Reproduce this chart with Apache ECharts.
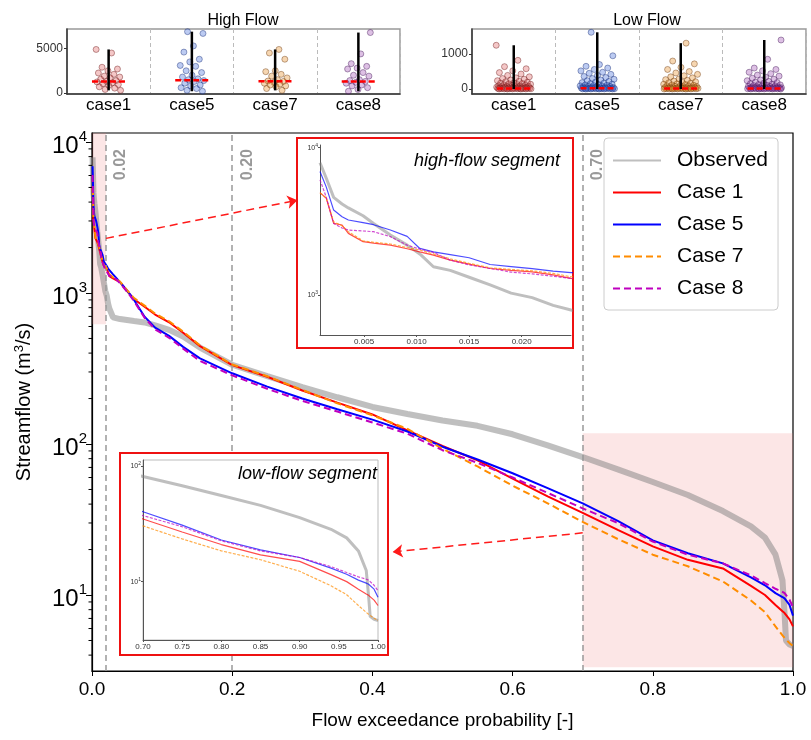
<!DOCTYPE html>
<html>
<head>
<meta charset="utf-8">
<script src="https://cdn.jsdelivr.net/npm/echarts@6.0.0/dist/echarts.min.js"></script>
<style>
  html, body { margin: 0; padding: 0; background: #fff; }
  #chart { width: 811px; height: 740px; }
</style>
</head>
<body>
<div id="chart"></div>
<script>
// exceedance probabilities shared by all flow duration curves
const prob = [0.0008, 0.0014, 0.0021, 0.0029, 0.0035, 0.0049, 0.0059, 0.0075, 0.0091, 0.0103,
  0.0116, 0.0132, 0.0150, 0.0170, 0.0190, 0.0210, 0.0230, 0.0247, 0.03, 0.04,
  0.05, 0.06, 0.075, 0.09, 0.11, 0.13, 0.154, 0.20, 0.25, 0.30,
  0.35, 0.40, 0.45, 0.50, 0.55, 0.60, 0.65, 0.70, 0.75, 0.80,
  0.85, 0.90, 0.94, 0.96, 0.975, 0.985, 0.988, 0.990, 0.995, 1.0];

const observed = [7900, 6200, 4600, 4150, 3900, 3450, 3060, 2550, 2180, 1900,
  1555, 1470, 1320, 1170, 1030, 960, 850, 790, 690, 672,
  662, 652, 638, 610, 570, 515, 435, 335, 282, 238,
  204, 176, 158, 143, 132, 116, 98, 82, 68, 56,
  46, 36, 28.5, 24, 18.5, 12.5, 7.5, 5.0, 4.7, 4.6];

const case1 = [4950, 4530, 3060, 2985, 2620, 2300, 2250, 2180, 2060, 1960,
  1865, 1725, 1620, 1513, 1470, 1436, 1370, 1295, 1250, 1180,
  1030, 910, 811, 720, 640, 545, 445, 333, 279, 226,
  188, 157, 123, 97, 78, 59, 45, 35, 27, 21,
  17.1, 15, 11.5, 10, 8.6, 7.8, 7.6, 7.4, 6.9, 6.2];

const case5 = [6900, 5400, 3770, 3400, 3230, 3100, 3000, 2760, 2500, 2070,
  1960, 1880, 1790, 1611, 1560, 1510, 1450, 1420, 1330, 1180,
  1040, 900, 697, 590, 520, 440, 369, 294, 240, 200,
  170, 145, 121, 96, 79, 64, 51, 40.5, 31, 23,
  18.9, 16.2, 13.1, 11.6, 10.3, 9.7, 9.5, 9.3, 8.6, 7.3];

const case7 = [4950, 4550, 3140, 2950, 2690, 2330, 2280, 2220, 2100, 2020,
  1900, 1760, 1640, 1530, 1490, 1460, 1400, 1330, 1270, 1190,
  1045, 925, 825, 730, 650, 555, 450, 336, 281, 228,
  186, 155, 126, 93, 71, 53, 40.5, 30.5, 23.5, 18.5,
  15.5, 12.3, 9.2, 7.7, 6.2, 5.4, 5.2, 5.1, 4.8, 4.6];

const case8 = [6050, 4600, 3060, 2850, 2760, 2720, 2690, 2490, 2180, 2050,
  1945, 1725, 1600, 1513, 1430, 1390, 1340, 1295, 1290, 1160,
  1020, 885, 685, 575, 505, 428, 355, 285, 232, 193,
  164, 139, 117, 91, 75, 60, 47.5, 37.5, 30, 22.6,
  18.5, 16.2, 13.5, 12, 11, 10.5, 10.3, 10.2, 9.3, 8.3];

const yTicksMain = [10, 100, 1000, 10000];
const minorTicksMain = [4, 5, 6, 7, 8, 9, 20, 30, 40, 50, 60, 70, 80, 90,
  200, 300, 400, 500, 600, 700, 800, 900, 2000, 3000, 4000, 5000, 6000, 7000, 8000, 9000];
const thresholds = [0.02, 0.20, 0.70];
const highInsetTicks = [0.005, 0.010, 0.015, 0.020];

// strip plots (top panels)
const cases = ['case1', 'case5', 'case7', 'case8'];
const highFlow = [
  [4900, 4500, 2900, 2700, 2500, 2250, 2100, 1900, 1800, 1700, 1550, 1400, 1300, 1250, 1150, 1050, 950, 850, 700, 550, 400, 300],
  [6900, 6700, 5300, 4600, 3800, 3500, 3100, 3000, 2500, 2300, 2000, 1800, 1600, 1500, 1400, 1300, 1100, 900, 800, 600, 500, 300, 200],
  [4900, 4500, 3800, 2500, 2400, 2100, 1900, 1700, 1500, 1350, 1300, 1200, 1100, 1000, 900, 800, 700, 500, 300],
  [6800, 4400, 3300, 3000, 2800, 2700, 2300, 2000, 1900, 1500, 1400, 1300, 1200, 1100, 900, 800, 600, 400, 200]
];
const highMedian = [1300, 1450, 1330, 1300];
const lowFlow = [
  [1250, 820, 640, 580, 520, 470, 430, 390, 350, 320, 300, 280, 260, 240, 225, 210, 195, 180, 170, 160, 150, 140, 130, 120, 110, 100, 95, 90, 85, 80, 75, 70, 65, 60, 56, 52, 48, 45, 42, 39, 36, 33, 30, 28, 26, 24, 22, 20, 18, 16, 15, 14, 12, 11, 10, 9, 8, 7, 6, 5, 4, 3, 2],
  [1620, 950, 700, 650, 600, 560, 520, 480, 450, 420, 390, 360, 330, 300, 280, 260, 240, 220, 200, 185, 170, 155, 140, 130, 120, 110, 100, 92, 85, 78, 72, 66, 60, 55, 50, 46, 42, 38, 35, 32, 29, 26, 24, 22, 20, 18, 16, 14, 12, 11, 10, 9, 8, 7, 6, 5, 4, 3, 2],
  [1310, 800, 720, 620, 560, 500, 460, 420, 380, 350, 320, 290, 270, 250, 230, 210, 195, 180, 165, 150, 140, 130, 120, 110, 100, 92, 85, 78, 72, 66, 60, 55, 50, 46, 42, 38, 35, 32, 29, 26, 24, 22, 20, 18, 16, 14, 12, 11, 10, 9, 8, 7, 6, 5, 4, 3, 2],
  [1400, 850, 600, 560, 520, 480, 440, 400, 370, 340, 310, 280, 260, 240, 220, 200, 185, 170, 155, 140, 130, 120, 110, 100, 92, 85, 78, 72, 66, 60, 55, 50, 46, 42, 38, 35, 32, 29, 26, 24, 22, 20, 18, 16, 14, 12, 11, 10, 9, 8, 7, 6, 5, 4, 3, 2]
];
const lowMedian = [20, 22, 20, 20];

const FONT = '"Liberation Sans", Arial, sans-serif';
const curveNames = ['Observed', 'Case 1', 'Case 5', 'Case 7', 'Case 8'];
const curveData = [observed, case1, case5, case7, case8];
const curveColors = ['rgba(128,128,128,0.5)', '#ff0000', '#0000ff', '#ff8c00', '#bf00bf'];
const curveDashed = [false, false, false, true, true];
const stripFill = ['rgba(220,80,80,0.4)', 'rgba(70,110,220,0.45)', 'rgba(230,140,40,0.45)', 'rgba(150,60,170,0.4)'];
const stripEdge = ['rgba(110,30,30,0.7)', 'rgba(30,50,120,0.7)', 'rgba(110,60,20,0.7)', 'rgba(70,30,90,0.7)'];

const pairs = (ys) => prob.map((p, i) => [p, ys[i]]);
const jitter = (k, w) => (((k * 0.618034) % 1) - 0.5) * w;
const pow10Label = (v) => '{b|10}{s|' + Math.round(Math.log10(v)) + '}';

const chart = echarts.init(document.getElementById('chart'));

const series = [];

// main flow duration curves
curveNames.forEach((name, i) => {
  const s = {
    name: name,
    type: 'line',
    xAxisIndex: 0,
    yAxisIndex: 0,
    data: pairs(curveData[i]),
    showSymbol: false,
    symbol: 'none',
    z: 2 + i,
    lineStyle: { color: curveColors[i], width: i === 0 ? 6 : 2, type: curveDashed[i] ? [7, 4] : 'solid' },
    itemStyle: { color: curveColors[i] },
    emphasis: { disabled: true }
  };
  if (i === 0) {
    s.markArea = {
      silent: true,
      itemStyle: { color: 'rgba(240,128,128,0.2)' },
      data: [
        [{ xAxis: 0, yAxis: 620 }, { xAxis: 0.02, yAxis: 11470 }],
        [{ xAxis: 0.70, yAxis: 3.33 }, { xAxis: 1.0, yAxis: 118 }]
      ]
    };
    s.markLine = {
      silent: true,
      symbol: 'none',
      lineStyle: { color: '#999', type: [6, 4], width: 1.5 },
      label: {
        show: true,
        position: 'insideEndBottom',
        color: '#999',
        fontWeight: 'bold',
        fontSize: 16,
        fontFamily: FONT,
        distance: [16, 7],
        formatter: (p) => p.value.toFixed(2)
      },
      data: thresholds.map((t) => ({ xAxis: t }))
    };
  }
  if (i === 1) {
    s.markLine = {
      silent: true,
      symbolSize: 10,
      lineStyle: { color: '#ff1a1a', type: [8, 5], width: 1.5 },
      label: { show: false },
      data: [
        [{ coord: [0.02, 2300], symbol: 'none' }, { coord: [0.293, 4120], symbol: 'arrow' }],
        [{ coord: [0.70, 25.8], symbol: 'none' }, { coord: [0.429, 19.3], symbol: 'arrow' }]
      ]
    };
  }
  series.push(s);
});

// minor ticks of the main log axis
series.push({
  type: 'custom',
  xAxisIndex: 0,
  yAxisIndex: 0,
  silent: true,
  data: minorTicksMain.map((v) => [0, v]),
  renderItem: (params, api) => {
    const pt = api.coord([0, api.value(1)]);
    return {
      type: 'line',
      shape: { x1: pt[0] - 3.5, y1: pt[1], x2: pt[0], y2: pt[1] },
      style: { stroke: '#000', lineWidth: 1 }
    };
  },
  z: 3
});

// inset curves
[1, 2].forEach((ax) => {
  curveNames.forEach((name, i) => {
    const s = {
      type: 'line',
      xAxisIndex: ax,
      yAxisIndex: ax,
      data: pairs(curveData[i]),
      showSymbol: false,
      symbol: 'none',
      silent: true,
      z: 30 + i,
      lineStyle: {
        color: curveColors[i],
        opacity: i === 0 ? 1 : 0.7,
        width: i === 0 ? 3 : 1.2,
        type: curveDashed[i] ? [3, 1.5] : 'solid'
      }
    };
    if (i === 0) {
      s.markLine = {
        silent: true,
        symbol: 'none',
        lineStyle: { color: '#bbb', type: [2, 2], width: 1 },
        label: { show: false },
        data: [{ xAxis: ax === 1 ? 0.020 : 0.70 }]
      };
    }
    series.push(s);
  });
});

// strip plots: jittered points, min-max whisker, median dash
const addStrip = (values, medians, xIdx, yIdx, spread) => {
  values.forEach((vals, c) => {
    series.push({
      type: 'scatter',
      xAxisIndex: xIdx,
      yAxisIndex: yIdx,
      symbolSize: 6,
      silent: true,
      data: vals.map((v, k) => [c + jitter(k + c * 7, spread), v]),
      itemStyle: { color: stripFill[c], borderColor: stripEdge[c], borderWidth: 0.8 },
      z: 3
    });
  });
  series.push({
    type: 'custom',
    xAxisIndex: xIdx,
    yAxisIndex: yIdx,
    silent: true,
    z: 5,
    data: values.map((vals, c) => [c, Math.min(...vals), Math.max(...vals), medians[c]]),
    renderItem: (params, api) => {
      const c = api.value(0);
      const lo = api.coord([c, api.value(1)]);
      const hi = api.coord([c, api.value(2)]);
      const m0 = api.coord([c - 0.2, api.value(3)]);
      const m1 = api.coord([c + 0.2, api.value(3)]);
      return {
        type: 'group',
        children: [
          { type: 'line', shape: { x1: lo[0], y1: lo[1], x2: hi[0], y2: hi[1] }, style: { stroke: '#000', lineWidth: 2.5 } },
          { type: 'line', shape: { x1: m0[0], y1: m0[1], x2: m1[0], y2: m1[1] }, style: { stroke: '#ff0000', lineWidth: 2.5, lineDash: [6, 3] } }
        ]
      };
    }
  });
};
addStrip(highFlow, highMedian, 4, 3, 0.3);
addStrip(lowFlow, lowMedian, 6, 4, 0.42);

const tinyAxis = (extra) => Object.assign({
  z: 30,
  axisLine: { show: true, onZero: false, lineStyle: { color: '#555', width: 1 } },
  axisTick: { show: true, length: 2, lineStyle: { color: '#555' } },
  splitLine: { show: false }
}, extra);

const stripCatAxis = (gridIndex) => ({
  gridIndex: gridIndex, type: 'category', data: cases, boundaryGap: true,
  axisLine: { show: true, onZero: false, lineStyle: { color: '#333', width: 1.5 } },
  axisTick: { show: false },
  axisLabel: { fontSize: 17, color: '#000', margin: 3 },
  splitLine: { show: true, lineStyle: { color: '#bbb', type: [4, 3], width: 1 } }
});

const stripValAxis = (gridIndex, min, max, ticks) => ({
  gridIndex: gridIndex, type: 'value', min: min, max: max,
  axisLine: { show: true, onZero: false, lineStyle: { color: '#333', width: 1.5 } },
  axisTick: { show: true, length: 3, customValues: ticks, lineStyle: { color: '#333' } },
  axisLabel: { fontSize: 12, color: '#333', margin: 4, customValues: ticks, formatter: (v) => String(v) },
  splitLine: { show: false }
});

const option = {
  animation: false,
  backgroundColor: '#fff',
  textStyle: { fontFamily: FONT },
  title: [
    { text: 'High Flow', left: 238, top: 8, textAlign: 'center', textStyle: { fontSize: 16, fontWeight: 'normal', color: '#000', fontFamily: FONT } },
    { text: 'Low Flow', left: 642, top: 8, textAlign: 'center', textStyle: { fontSize: 16, fontWeight: 'normal', color: '#000', fontFamily: FONT } }
  ],
  legend: {
    data: curveNames,
    orient: 'vertical',
    left: 604,
    top: 138,
    padding: [12, 10, 11, 8],
    itemGap: 11,
    itemWidth: 48,
    itemHeight: 14,
    itemStyle: { opacity: 0 },
    backgroundColor: 'rgba(255,255,255,0.9)',
    borderColor: '#ccc',
    borderWidth: 1,
    borderRadius: 4,
    z: 50,
    textStyle: { fontSize: 21, color: '#000', fontFamily: FONT, padding: [0, 0, 0, 11] }
  },
  grid: [
    { left: 92, top: 133, width: 701, height: 538, show: true, borderColor: '#000', borderWidth: 1.2, backgroundColor: 'transparent' },
    { left: 320, top: 145, width: 251, height: 190 },
    { left: 143, top: 460, width: 235, height: 180, show: true, borderColor: '#bbb', borderWidth: 1, backgroundColor: 'transparent', z: 25 },
    { left: 67, top: 29, width: 333, height: 65, show: true, borderColor: '#999', borderWidth: 1.5 },
    { left: 472, top: 29, width: 334, height: 65, show: true, borderColor: '#999', borderWidth: 1.5 }
  ],
  xAxis: [
    {
      gridIndex: 0, type: 'value', min: 0, max: 1, interval: 0.2,
      name: 'Flow exceedance probability [-]', nameLocation: 'middle', nameGap: 40,
      nameTextStyle: { fontSize: 19, color: '#000', fontFamily: FONT },
      axisLine: { show: true, onZero: false, lineStyle: { color: '#000', width: 1.2 } },
      axisTick: { show: true, length: 5, lineStyle: { color: '#000' } },
      axisLabel: { fontSize: 19, color: '#000', margin: 9, formatter: (v) => v.toFixed(1) },
      splitLine: { show: false }
    },
    tinyAxis({
      gridIndex: 1, type: 'value', min: 0.0008, max: 0.0247,
      axisLabel: { fontSize: 8, color: '#333', margin: 3, customValues: highInsetTicks, formatter: (v) => v.toFixed(3) },
      axisTick: { show: true, length: 2, customValues: highInsetTicks, lineStyle: { color: '#555' } }
    }),
    tinyAxis({
      gridIndex: 2, type: 'value', min: 0.70, max: 1.0, interval: 0.05,
      axisLabel: { fontSize: 8, color: '#333', margin: 3, formatter: (v) => v.toFixed(2) }
    }),
    stripCatAxis(3),
    { gridIndex: 3, type: 'value', min: -0.5, max: 3.5, show: false },
    stripCatAxis(4),
    { gridIndex: 4, type: 'value', min: -0.5, max: 3.5, show: false }
  ],
  yAxis: [
    {
      gridIndex: 0, type: 'log', logBase: 10, min: 3.14, max: 11470,
      name: 'Streamflow (m{s|3}/s)', nameLocation: 'middle', nameGap: 56,
      nameTextStyle: {
        fontSize: 20, color: '#000', fontFamily: FONT,
        rich: { s: { fontSize: 13, color: '#000', fontFamily: FONT, padding: [0, 0, 10, 0] } }
      },
      axisLine: { show: true, onZero: false, lineStyle: { color: '#000', width: 1.2 } },
      axisTick: { show: true, length: 6, customValues: yTicksMain, lineStyle: { color: '#000' } },
      axisLabel: {
        customValues: yTicksMain, margin: 5, formatter: pow10Label,
        rich: {
          b: { fontSize: 24, color: '#000', fontFamily: FONT, padding: [8, 0, 0, 0] },
          s: { fontSize: 15, color: '#000', fontFamily: FONT, padding: [0, 0, 10, 0] }
        }
      },
      splitLine: { show: false }
    },
    tinyAxis({
      gridIndex: 1, type: 'log', logBase: 10, min: 535, max: 10430,
      axisTick: { show: true, length: 2, customValues: [1000, 10000], lineStyle: { color: '#555' } },
      axisLabel: {
        customValues: [1000, 10000], margin: 2, formatter: pow10Label,
        rich: { b: { fontSize: 7, color: '#333' }, s: { fontSize: 5, color: '#333', padding: [0, 0, 5, 0] } }
      }
    }),
    tinyAxis({
      gridIndex: 2, type: 'log', logBase: 10, min: 3.11, max: 114,
      axisTick: { show: true, length: 2, customValues: [10, 100], lineStyle: { color: '#555' } },
      axisLabel: {
        customValues: [10, 100], margin: 2, formatter: pow10Label,
        rich: { b: { fontSize: 7, color: '#333' }, s: { fontSize: 5, color: '#333', padding: [0, 0, 5, 0] } }
      }
    }),
    stripValAxis(3, -110, 7200, [0, 5000]),
    stripValAxis(4, -140, 1714, [0, 1000])
  ],
  graphic: [
    { type: 'rect', z: 20, shape: { x: 297, y: 138, width: 276, height: 210 }, style: { fill: '#fff', stroke: '#ee1111', lineWidth: 2 } },
    { type: 'rect', z: 20, shape: { x: 120, y: 453, width: 268, height: 202 }, style: { fill: '#fff', stroke: '#ee1111', lineWidth: 2 } },
    { type: 'text', z: 40, x: 560, y: 161, style: { text: 'high-flow segment', font: 'italic 18px ' + FONT, fill: '#000', textAlign: 'right', textVerticalAlign: 'middle' } },
    { type: 'text', z: 40, x: 377, y: 474, style: { text: 'low-flow segment', font: 'italic 18px ' + FONT, fill: '#000', textAlign: 'right', textVerticalAlign: 'middle' } }
  ],
  series: series
};

chart.setOption(option);
</script>
</body>
</html>
